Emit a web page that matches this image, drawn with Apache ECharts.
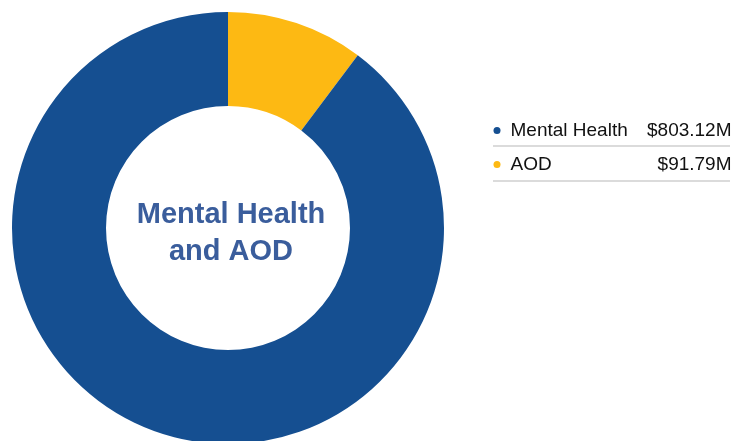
<!DOCTYPE html>
<html>
<head>
<meta charset="utf-8">
<script src="https://cdn.jsdelivr.net/npm/echarts@6/dist/echarts.min.js"></script>
<style>html,body{margin:0;padding:0;background:#fff;}#c{width:736px;height:441px;}</style>
</head>
<body>
<div id="c"></div>
<script>
const categories = ['AOD', 'Mental Health'];
const values = [91.79, 803.12];
const legendOrder = ['Mental Health', 'AOD'];
const colors = { 'AOD': '#FDB913', 'Mental Health': '#154F91' };
const centerTitle = 'Mental Health\nand AOD';

const FONT = '"Liberation Sans", Arial, sans-serif';
const chart = echarts.init(document.getElementById('c'));
const valueOf = n => values[categories.indexOf(n)];
chart.setOption({
  animation: false,
  legend: {
    orient: 'vertical',
    left: 493.5,
    top: 121,
    padding: 0,
    data: legendOrder,
    icon: 'circle',
    itemWidth: 7,
    itemHeight: 7,
    itemGap: 15,
    formatter: n => '{n|' + n + '}{v|$' + valueOf(n).toFixed(2) + 'M}',
    textStyle: {
      fontFamily: FONT,
      color: '#111',
      rich: {
        n: { fontFamily: FONT, fontSize: 19, width: 125, padding: [0, 0, 0, 5], color: '#111', height: 22 },
        v: { fontFamily: FONT, fontSize: 19, width: 96, align: 'right', color: '#111', height: 22 }
      }
    }
  },
  graphic: [
    { type: 'line', shape: { x1: 493, y1: 146, x2: 730, y2: 146 }, style: { stroke: '#CFCFCF', lineWidth: 1.5 } },
    { type: 'line', shape: { x1: 493, y1: 181, x2: 730, y2: 181 }, style: { stroke: '#CFCFCF', lineWidth: 1.5 } },
    { type: 'text', x: 231, y: 233, style: { text: centerTitle, textAlign: 'center', textVerticalAlign: 'middle', font: 'bold 29px ' + FONT, lineHeight: 37, fill: '#3A5D9C' } }
  ],
  series: [{
    type: 'pie',
    center: [228, 228],
    radius: [122, 216],
    startAngle: 90,
    clockwise: true,
    label: { show: false },
    labelLine: { show: false },
    emphasis: { disabled: true },
    data: categories.map((c, i) => ({ name: c, value: values[i], itemStyle: { color: colors[c] } }))
  }]
});
</script>
</body>
</html>
